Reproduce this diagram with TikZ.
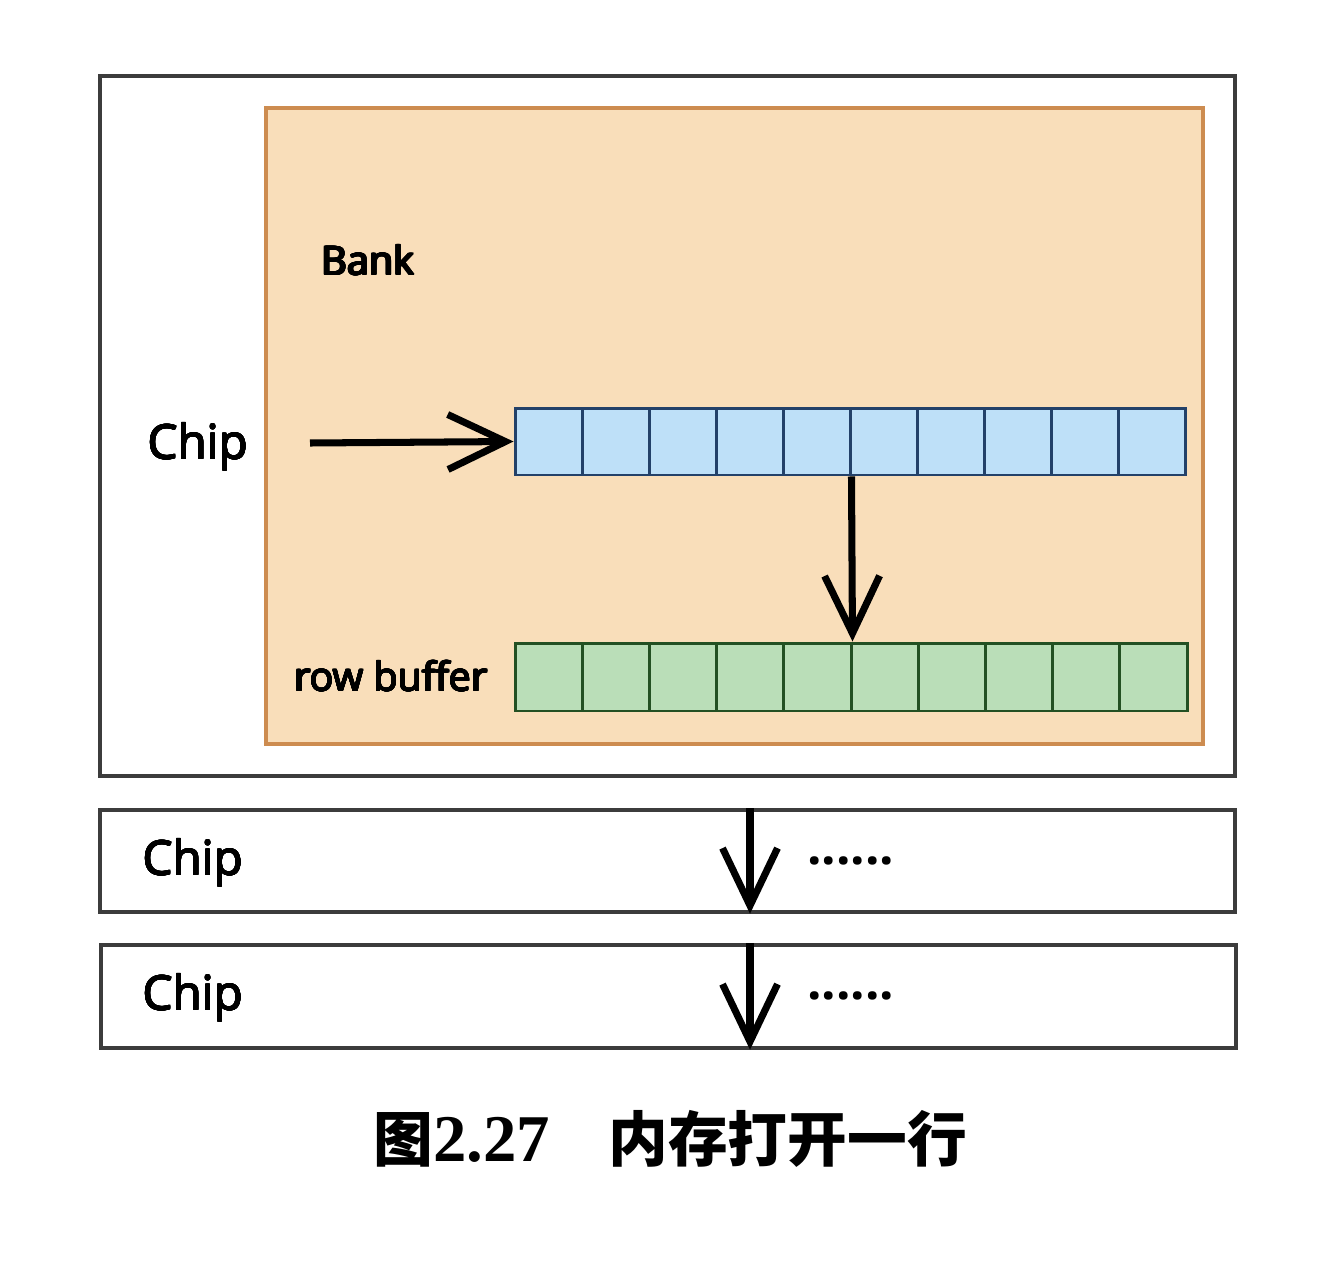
\documentclass[tikz,border=0pt]{standalone}
\usepackage{fontspec}
\setmainfont{Open Sans}
\newfontfamily\cjkfont{Noto Sans CJK SC}
\newfontfamily\capserif{Liberation Serif}
\usepackage[copies]{contour}
\contourlength{0.45pt}
\contournumber{16}
\usetikzlibrary{arrows.meta}
\definecolor{bankfill}{RGB}{249,222,186}
\definecolor{bankline}{RGB}{205,140,80}
\definecolor{bluefill}{RGB}{190,224,248}
\definecolor{blueline}{RGB}{35,65,105}
\definecolor{greenfill}{RGB}{186,222,184}
\definecolor{greenline}{RGB}{35,80,35}
\definecolor{boxline}{RGB}{60,60,60}
\newcommand{\semib}[1]{\contour{black}{#1}}
\tikzset{
  chipbox/.style={draw=boxline, line width=2pt, minimum width=22.7cm, inner sep=0pt},
  bankbox/.style={draw=bankline, fill=bankfill, line width=2.2pt, minimum width=18.74cm, minimum height=12.72cm, inner sep=0pt},
  bluecell/.style={draw=blueline, fill=bluefill, line width=1.7pt, minimum width=1.34cm, minimum height=1.34cm, inner sep=0pt},
  greencell/.style={draw=greenline, fill=greenfill, line width=1.7pt, minimum width=1.344cm, minimum height=1.36cm, inner sep=0pt},
  bigarrow/.style={line width=4pt, -{Straight Barb[length=1.15cm,width=1.1cm]}},
  bigtext/.style={font=\fontsize{27}{30}\selectfont, inner sep=0pt, anchor=base},
  midtext/.style={font=\fontsize{22.5}{26}\selectfont, inner sep=0pt, anchor=base},
  dottext/.style={font=\bfseries\fontsize{29}{30}\selectfont, inner sep=0pt, anchor=base west},
  captext/.style={font=\cjkfont\bfseries\fontsize{34}{38}\selectfont, inner sep=0pt, anchor=base west}
}
\begin{document}
\begin{tikzpicture}[x=0.02cm,y=-0.02cm]
\path[use as bounding box, fill=white] (0,0) rectangle (1334,1280);
% chip boxes
\node[chipbox, minimum height=14cm] (chipA) at (667.5,426) {};
\node[chipbox, minimum height=2.04cm] (chipB) at (667.5,861) {};
\node[chipbox, minimum height=2.06cm] (chipC) at (668.5,996.5) {};
% bank
\node[bankbox] (bank) at (734.5,426) {};
% cells
\foreach \i in {1,...,10}{
  \node[bluecell] (b\i) at ({515+67*(\i-0.5)},441.5) {};
  \node[greencell] (g\i) at ({515+67.2*(\i-0.5)},677) {};
}
% labels
\node[bigtext] (lblA) at (198,459) {\semib{Chip}};
\node[midtext] (lblBank) at (368,275) {\semib{Bank}};
\node[midtext] (lblRow) at (391,691) {\semib{row buffer}};
\node[bigtext] (lblB) at (193,875) {\semib{Chip}};
\node[bigtext] (lblC) at (193,1010) {\semib{Chip}};
\node[dottext] (dotsB) at (807,864) {......};
\node[dottext] (dotsC) at (807,999) {......};
% arrows
\coordinate (startA) at (310,443);
\draw[bigarrow] (startA) -- (b1.west);
\draw[bigarrow] (b5.south east) -- (g5.north east);
\coordinate (xcol) at (750,0);
\coordinate (topB) at (xcol |- chipB.north);
\coordinate (botB) at (xcol |- chipB.south);
\coordinate (topC) at (xcol |- chipC.north);
\coordinate (botC) at (xcol |- chipC.south);
\draw[bigarrow] (topB) -- (botB);
\draw[bigarrow] (topC) -- (botC);
% caption
\node[captext] (capA) at (373,1161) {图{\capserif\bfseries\fontsize{38}{40}\selectfont 2.27}};
\node[captext] (capB) at (608,1161) {内存打开一行};
\end{tikzpicture}
\end{document}
